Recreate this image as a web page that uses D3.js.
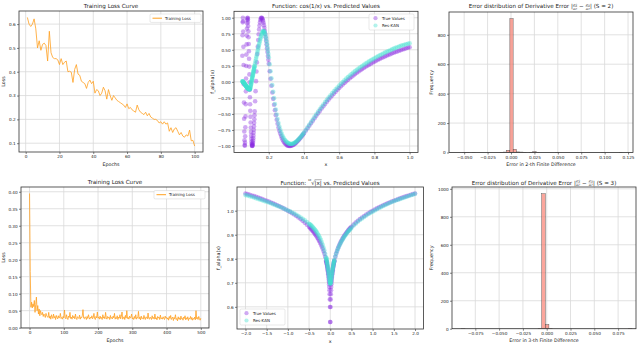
<!DOCTYPE html>
<html>
<head>
<meta charset="utf-8">
<script src="https://cdn.jsdelivr.net/npm/d3@7"></script>
<style>
body { margin: 0; background: #fff; }
svg { font-family: "DejaVu Sans", sans-serif; }
</style>
</head>
<body>
<svg id="canvas" width="640" height="344"></svg>
<script>

// ---- panel 1 : loss, 100 epochs
const lossA = [0.628,0.600,0.590,0.600,0.622,0.580,0.500,0.530,0.490,0.515,
  0.520,0.510,0.445,0.570,0.480,0.460,0.455,0.455,0.450,0.430,
  0.455,0.430,0.440,0.445,0.400,0.402,0.398,0.355,0.410,0.430,
  0.390,0.385,0.360,0.355,0.350,0.330,0.355,0.365,0.350,0.360,
  0.310,0.325,0.320,0.300,0.310,0.335,0.320,0.285,0.325,0.300,
  0.280,0.300,0.290,0.280,0.275,0.270,0.265,0.260,0.250,0.265,
  0.245,0.250,0.240,0.235,0.230,0.260,0.240,0.230,0.225,0.220,
  0.230,0.215,0.225,0.210,0.205,0.200,0.200,0.195,0.185,0.190,
  0.180,0.190,0.180,0.185,0.150,0.165,0.145,0.160,0.165,0.150,
  0.135,0.145,0.130,0.125,0.135,0.130,0.155,0.110,0.112,0.088];

// ---- panel 4 : loss, 500 epochs (every 2nd epoch)
const lossB = [0.395,0.165,0.060,
  0.075,0.058,0.070,0.062,0.080,0.045,0.068,0.090,
  0.050,0.065,0.040,0.055,0.035,0.050,0.042,0.038,0.045,0.033,0.040,0.036,0.030,0.042,0.035,0.032,
  0.030,0.045,0.028,0.034,0.025,0.038,0.031,0.027,0.040,0.029,0.033,0.024,0.036,0.030,0.026,0.035,0.028,0.031,0.042,0.027,0.030,0.025,0.033,0.029,
  0.052,0.030,0.026,0.038,0.028,0.024,0.034,0.030,0.045,0.027,0.031,0.025,0.036,0.029,0.033,0.026,0.040,0.028,0.024,0.032,0.030,0.027,0.037,0.025,0.031,
  0.029,0.035,0.053,0.028,0.026,0.032,0.030,0.024,0.033,0.027,0.038,0.029,0.025,0.031,0.028,0.035,0.026,0.030,0.042,0.027,0.024,0.033,0.029,0.046,0.028,
  0.031,0.025,0.034,0.027,0.030,0.024,0.038,0.028,0.032,0.026,0.045,0.029,0.025,0.033,0.028,0.031,0.024,0.036,0.027,0.030,0.026,0.034,0.029,0.042,0.025,
  0.030,0.027,0.035,0.024,0.031,0.028,0.038,0.026,0.033,0.046,0.025,0.029,0.032,0.024,0.036,0.028,0.050,0.027,0.030,0.025,0.034,0.028,0.031,0.040,0.026,
  0.029,0.024,0.033,0.027,0.038,0.025,0.030,0.028,0.048,0.026,0.031,0.023,0.034,0.027,0.029,0.025,0.036,0.028,0.024,0.032,0.030,0.026,0.043,0.027,0.025,
  0.031,0.028,0.024,0.035,0.027,0.030,0.025,0.040,0.026,0.029,0.023,0.033,0.028,0.031,0.024,0.037,0.026,0.029,0.025,0.032,0.027,0.024,0.034,0.028,0.030,
  0.025,0.029,0.022,0.033,0.027,0.036,0.024,0.028,0.031,0.021,0.030,0.026,0.038,0.024,0.027,0.020,0.032,0.025,0.029,0.023,0.034,0.026,0.028,0.022,0.031,
  0.027,0.035,0.023,0.029,0.025,0.032,0.021,0.028,0.026,0.033,0.024,0.030,0.022,0.027,0.025,0.031,0.023,0.050,0.026,0.030,0.024,0.033,0.027,0.022,0.028];

// ---- panel 2 : cos(1/x)
const cosX = [0.050,0.051,0.052,0.053,0.054,0.055,0.056,0.057,0.058,0.059,
  0.060,0.061,0.062,0.063,0.064,0.065,0.066,0.067,0.068,0.069,
  0.070,0.071,0.072,0.073,0.074,0.075,0.076,0.077,0.078,0.079,
  0.080,0.081,0.082,0.083,0.084,0.085,0.086,0.087,0.088,0.089,
  0.090,0.091,0.092,0.093,0.094,0.095,0.096,0.097,0.098,0.099,
  0.100,0.101,0.102,0.103,0.104,0.105,0.106,0.107,0.108,0.109,
  0.110,0.111,0.112,0.113,0.114,0.115,0.116,0.117,0.118,0.119,0.120,
  0.1225,0.125,0.1275,0.130,0.1325,0.135,0.1375,0.140,0.1425,0.145,0.1475,0.150,0.1525,0.155,0.1575,0.160,
  0.1625,0.165,0.1675,0.170,0.1725,0.175,0.1775,0.180,0.1825,0.185,0.1875,0.190,0.1925,0.195,0.1975,0.200,
  0.205,0.210,0.215,0.220,0.225,0.230,0.235,0.240,0.245,0.250,0.255,0.260,0.265,0.270,0.275,0.280,0.285,0.290,0.295,0.300,
  0.305,0.310,0.315,0.320,0.325,0.330,0.335,0.340,0.345,0.350,0.355,0.360,0.365,0.370,0.375,0.380,0.385,0.390,0.395,0.400,
  0.41,0.42,0.43,0.44,0.45,0.46,0.47,0.48,0.49,0.50,0.51,0.52,0.53,0.54,0.55,0.56,0.57,0.58,0.59,0.60,
  0.61,0.62,0.63,0.64,0.65,0.66,0.67,0.68,0.69,0.70,0.71,0.72,0.73,0.74,0.75,0.76,0.77,0.78,0.79,0.80,
  0.81,0.82,0.83,0.84,0.85,0.86,0.87,0.88,0.89,0.90,0.91,0.92,0.93,0.94,0.95,0.96,0.97,0.98,0.99,1.00];
const cosTrue = [0.408,0.726,0.928,1.000,0.946,0.785,0.546,0.262,-0.037,-0.323,
  -0.575,-0.775,-0.912,-0.986,-0.997,-0.948,-0.849,-0.709,-0.539,-0.348,
  -0.148,0.052,0.246,0.425,0.584,0.721,0.830,0.912,0.967,0.996,
  0.998,0.976,0.932,0.869,0.789,0.696,0.591,0.478,0.360,0.238,
  0.116,-0.006,-0.125,-0.240,-0.350,-0.452,-0.546,-0.634,-0.712,-0.780,
  -0.839,-0.889,-0.929,-0.960,-0.982,-0.995,-1.000,-0.997,-0.986,-0.969,
  -0.945,-0.915,-0.880,-0.839,-0.794,-0.746,-0.694,-0.639,-0.582,-0.522,-0.461,
  -0.303,-0.145,0.011,0.161,0.303,0.433,0.549,0.652,0.742,0.818,0.879,0.927,0.963,0.986,0.998,0.999,
  0.992,0.975,0.951,0.921,0.884,0.842,0.797,0.747,0.694,0.639,0.582,0.523,0.465,0.404,0.344,0.284,
  0.165,0.049,-0.061,-0.166,-0.265,-0.358,-0.441,-0.519,-0.590,-0.654,-0.711,-0.762,-0.807,-0.846,-0.880,-0.909,-0.933,-0.953,-0.969,-0.982,
  -0.991,-0.996,-0.999,-1.000,-0.998,-0.994,-0.988,-0.980,-0.971,-0.960,-0.948,-0.934,-0.920,-0.905,-0.889,-0.873,-0.856,-0.838,-0.820,-0.801,
  -0.763,-0.724,-0.685,-0.646,-0.607,-0.568,-0.529,-0.491,-0.453,-0.416,-0.381,-0.345,-0.311,-0.277,-0.245,-0.213,-0.183,-0.153,-0.124,-0.095,
  -0.068,-0.042,-0.016,0.008,0.032,0.055,0.078,0.100,0.121,0.141,0.161,0.181,0.199,0.217,0.235,0.252,0.268,0.284,0.300,0.315,
  0.330,0.344,0.358,0.371,0.384,0.397,0.409,0.421,0.432,0.444,0.455,0.465,0.475,0.485,0.495,0.504,0.514,0.523,0.531,0.540];
const cosPred = [0.010,0.008,0.005,0.002,-0.001,-0.004,-0.008,-0.011,-0.015,-0.018,
  -0.022,-0.026,-0.030,-0.034,-0.038,-0.042,-0.046,-0.050,-0.054,-0.058,
  -0.062,-0.066,-0.070,-0.074,-0.078,-0.082,-0.086,-0.089,-0.092,-0.095,
  -0.098,-0.100,-0.102,-0.104,-0.106,-0.108,-0.110,-0.112,-0.114,-0.115,
  -0.116,-0.117,-0.116,-0.112,-0.104,-0.093,-0.080,-0.066,-0.052,-0.038,
  -0.024,-0.010,0.004,0.018,0.032,0.046,0.060,0.074,0.088,0.102,
  0.116,0.130,0.144,0.158,0.172,0.186,0.200,0.214,0.228,0.242,0.256,
  0.290,0.324,0.358,0.392,0.425,0.458,0.490,0.522,0.553,0.584,0.614,0.643,0.671,0.697,0.721,0.743,
  0.762,0.777,0.787,0.791,0.788,0.778,0.761,0.737,0.707,0.671,0.630,0.585,0.537,0.487,0.436,0.384,
  0.275,0.165,0.056,-0.051,-0.155,-0.254,-0.347,-0.432,-0.510,-0.580,-0.642,-0.697,-0.745,-0.787,-0.823,-0.854,-0.880,-0.902,-0.920,-0.935,
  -0.947,-0.956,-0.963,-0.967,-0.969,-0.968,-0.965,-0.960,-0.953,-0.944,-0.934,-0.922,-0.909,-0.895,-0.880,-0.864,-0.847,-0.829,-0.811,-0.792,
  -0.751,-0.710,-0.669,-0.628,-0.587,-0.546,-0.506,-0.467,-0.428,-0.388,-0.352,-0.315,-0.280,-0.245,-0.212,-0.179,-0.148,-0.117,-0.087,-0.057,
  -0.029,-0.002,0.025,0.050,0.075,0.099,0.122,0.145,0.167,0.187,0.208,0.228,0.247,0.266,0.284,0.302,0.319,0.336,0.352,0.368,
  0.383,0.398,0.413,0.427,0.441,0.455,0.468,0.481,0.493,0.506,0.518,0.529,0.540,0.551,0.561,0.570,0.578,0.586,0.593,0.600];

// ---- panel 5 : 10th root of |x|
const rootX = [-2.00,-1.95,-1.90,-1.85,-1.80,-1.75,-1.70,-1.65,-1.60,-1.55,-1.50,-1.45,-1.40,-1.35,-1.30,
  -1.25,-1.20,-1.15,-1.10,-1.05,-1.00,-0.95,-0.90,-0.85,-0.80,-0.75,-0.70,-0.65,-0.60,-0.55,
  -0.50,-0.48,-0.46,-0.44,-0.42,-0.40,-0.38,-0.36,-0.34,-0.32,-0.30,-0.28,-0.26,-0.24,-0.22,-0.20,-0.18,-0.16,-0.14,-0.12,
  -0.098,-0.094,-0.090,-0.086,-0.082,-0.078,-0.074,-0.070,-0.066,-0.062,-0.058,-0.054,-0.050,-0.046,-0.042,-0.038,-0.034,-0.030,-0.026,-0.022,-0.018,-0.014,-0.010,-0.006,-0.002,
  0.002,0.006,0.010,0.014,0.018,0.022,0.026,0.030,0.034,0.038,0.042,0.046,0.050,0.054,0.058,0.062,0.066,0.070,0.074,0.078,0.082,0.086,0.090,0.094,0.098,
  0.12,0.14,0.16,0.18,0.20,0.22,0.24,0.26,0.28,0.30,0.32,0.34,0.36,0.38,0.40,0.42,0.44,0.46,0.48,0.50,
  0.55,0.60,0.65,0.70,0.75,0.80,0.85,0.90,0.95,1.00,1.05,1.10,1.15,1.20,1.25,
  1.30,1.35,1.40,1.45,1.50,1.55,1.60,1.65,1.70,1.75,1.80,1.85,1.90,1.95,2.00];
const rootTrue = [1.0718,1.0690,1.0663,1.0634,1.0605,1.0576,1.0545,1.0514,1.0481,1.0448,1.0414,1.0378,1.0342,1.0305,1.0266,
  1.0226,1.0184,1.0141,1.0096,1.0049,1.0000,0.9949,0.9895,0.9839,0.9779,0.9716,0.9650,0.9578,0.9502,0.9420,
  0.9330,0.9293,0.9253,0.9212,0.9169,0.9124,0.9079,0.9030,0.8978,0.8924,0.8866,0.8805,0.8740,0.8670,0.8595,0.8513,0.8424,0.8325,0.8215,0.8087,
  0.7929,0.7896,0.7861,0.7826,0.7788,0.7750,0.7709,0.7666,0.7621,0.7574,0.7523,0.7470,0.7412,0.7351,0.7284,0.7211,0.7132,0.7043,0.6943,0.6828,0.6692,0.6527,0.6310,0.5996,0.5372,
  0.5372,0.5996,0.6310,0.6527,0.6692,0.6828,0.6943,0.7043,0.7132,0.7211,0.7284,0.7351,0.7412,0.7470,0.7523,0.7574,0.7621,0.7666,0.7709,0.7750,0.7788,0.7826,0.7861,0.7896,0.7929,
  0.8087,0.8215,0.8325,0.8424,0.8513,0.8595,0.8670,0.8740,0.8805,0.8866,0.8924,0.8978,0.9030,0.9079,0.9124,0.9169,0.9212,0.9253,0.9293,0.9330,
  0.9420,0.9502,0.9578,0.9650,0.9716,0.9779,0.9839,0.9895,0.9949,1.0000,1.0049,1.0096,1.0141,1.0184,1.0226,
  1.0266,1.0305,1.0342,1.0378,1.0414,1.0448,1.0481,1.0514,1.0545,1.0576,1.0605,1.0634,1.0663,1.0690,1.0718];
const rootPred = [1.065,1.063,1.060,1.058,1.055,1.052,1.049,1.046,1.043,1.040,1.037,1.034,1.031,1.027,1.024,
  1.020,1.017,1.013,1.009,1.005,1.001,0.997,0.992,0.988,0.983,0.978,0.972,0.966,0.960,0.953,
  0.946,0.943,0.940,0.937,0.933,0.929,0.925,0.921,0.916,0.911,0.905,0.899,0.892,0.885,0.877,0.868,0.858,0.847,0.835,0.821,
  0.806,0.802,0.799,0.795,0.791,0.787,0.783,0.779,0.774,0.770,0.765,0.760,0.755,0.750,0.745,0.740,0.734,0.728,0.723,0.717,0.712,0.707,0.703,0.699,0.697,
  0.696,0.698,0.701,0.705,0.709,0.714,0.719,0.724,0.729,0.734,0.739,0.744,0.749,0.753,0.758,0.762,0.766,0.770,0.774,0.778,0.782,0.785,0.789,0.792,0.795,
  0.810,0.822,0.832,0.841,0.849,0.857,0.864,0.871,0.877,0.883,0.889,0.894,0.899,0.904,0.909,0.913,0.917,0.921,0.925,0.929,
  0.938,0.946,0.954,0.961,0.968,0.974,0.980,0.986,0.991,0.996,1.001,1.006,1.011,1.015,1.020,
  1.024,1.028,1.032,1.036,1.039,1.043,1.046,1.049,1.052,1.055,1.058,1.061,1.064,1.067,1.070];

// ---- panels 3 and 6 : histograms of derivative error (non-empty bins)
const errBin2 = [-0.0517,-0.0482,-0.0412,-0.0117,-0.0082,-0.0047,-0.0012,0.0023,0.0058,0.0093,0.0128,0.0198,0.0233,0.0268,0.0478,0.0968,0.1158];
const errCount2 = [2,1,1,2,3,15,910,22,4,3,2,2,5,2,1,1,1];
const binWidth2 = 0.0035;
const errBin3 = [-0.0896,-0.0091,-0.0053,-0.0015,0.0023,0.0858];
const errCount3 = [1,2,965,30,2,1];
const binWidth3 = 0.0038;

// ---- tick values
const ticksEp100 = [0,20,40,60,80,100], ticksLossA = [0.1,0.2,0.3,0.4,0.5,0.6];
const ticksCosX = [0.2,0.4,0.6,0.8,1.0], ticksCosY = [-1,-0.75,-0.5,-0.25,0,0.25,0.5,0.75,1];
const ticksErr2X = [-0.05,-0.025,0,0.025,0.05,0.075,0.1,0.125], ticksFreq2 = [0,200,400,600,800];
const ticksEp500 = [0,100,200,300,400,500], ticksLossB = [0,0.05,0.1,0.15,0.2,0.25,0.3,0.35,0.4];
const ticksRootX = [-2,-1.5,-1,-0.5,0,0.5,1,1.5,2], ticksRootY = [0.6,0.7,0.8,0.9,1.0];
const ticksErr3X = [-0.075,-0.05,-0.025,0,0.025,0.05,0.075], ticksFreq3 = [0,200,400,600,800,1000];

const ORANGE = '#ffa01f', PURPLE = '#8a2be2', CYAN = '#40e0d0', SALMON = '#fa8072';
const TICK_FS = 4.2, LABEL_FS = 4.8, TITLE_FS = 5.6;

const svg = d3.select('svg#canvas');
let clipCount = 0;

function makePanel(p) {
  const x = d3.scaleLinear().domain(p.xDomain).range([p.left, p.right]);
  const y = d3.scaleLinear().domain(p.yDomain).range([p.bottom, p.top]);
  const g = svg.append('g');
  const id = 'clip' + (clipCount++);
  g.append('clipPath').attr('id', id).append('rect')
    .attr('x', p.left).attr('y', p.top)
    .attr('width', p.right - p.left).attr('height', p.bottom - p.top);

  g.append('g').selectAll('line').data(p.xTicks).join('line')
    .attr('x1', d => x(d)).attr('x2', d => x(d)).attr('y1', p.top).attr('y2', p.bottom)
    .attr('stroke', '#d9d9d9').attr('stroke-width', 0.8);
  g.append('g').selectAll('line').data(p.yTicks).join('line')
    .attr('y1', d => y(d)).attr('y2', d => y(d)).attr('x1', p.left).attr('x2', p.right)
    .attr('stroke', '#d9d9d9').attr('stroke-width', 0.8);

  const plot = g.append('g').attr('clip-path', `url(#${id})`);

  const xa = g.append('g').attr('transform', `translate(0,${p.bottom})`)
    .call(d3.axisBottom(x).tickValues(p.xTicks).tickFormat(p.xFormat).tickSize(2).tickPadding(1.3));
  const ya = g.append('g').attr('transform', `translate(${p.left},0)`)
    .call(d3.axisLeft(y).tickValues(p.yTicks).tickFormat(p.yFormat).tickSize(2).tickPadding(1.3));
  [xa, ya].forEach(a => {
    a.select('.domain').remove();
    a.attr('font-family', null);
    a.selectAll('line').attr('stroke', '#333').attr('stroke-width', 0.6);
    a.selectAll('text').attr('font-size', TICK_FS).attr('fill', '#222');
  });

  g.append('rect')
    .attr('x', p.left).attr('y', p.top)
    .attr('width', p.right - p.left).attr('height', p.bottom - p.top)
    .attr('fill', 'none').attr('stroke', '#333').attr('stroke-width', 0.8);

  g.append('text').attr('x', (p.left + p.right) / 2).attr('y', p.bottom + 13.5)
    .attr('text-anchor', 'middle').attr('font-size', LABEL_FS).attr('fill', '#222').text(p.xLabel);
  g.append('text').attr('transform', `translate(${p.yLabelX},${(p.top + p.bottom) / 2}) rotate(-90)`)
    .attr('text-anchor', 'middle').attr('font-size', LABEL_FS).attr('fill', '#222').text(p.yLabel);

  if (p.title) {
    g.append('text').attr('x', (p.left + p.right) / 2).attr('y', p.top - 3.2)
      .attr('text-anchor', 'middle').attr('font-size', TITLE_FS).attr('fill', '#222').text(p.title);
  }
  return { x, y, plot, p };
}

// title made of plain text pieces, small fractions, raised indices
function richTitle(cx, yb, pieces) {
  const g = svg.append('g').attr('fill', '#222');
  let cur = 0;
  pieces.forEach(pc => {
    if (pc.frac) {
      const num = g.append('text').attr('y', yb - 2.5).attr('font-size', 2.7).style('white-space', 'pre').text(pc.frac[0]);
      const den = g.append('text').attr('y', yb + 1.3).attr('font-size', 2.7).style('white-space', 'pre').text(pc.frac[1]);
      const wn = num.node().getComputedTextLength(), wd = den.node().getComputedTextLength();
      const w = Math.max(wn, wd) + 0.4;
      num.attr('x', cur + (w - wn) / 2);
      den.attr('x', cur + (w - wd) / 2);
      g.append('line').attr('x1', cur).attr('x2', cur + w).attr('y1', yb - 1.7).attr('y2', yb - 1.7)
        .attr('stroke', '#222').attr('stroke-width', 0.25);
      cur += w;
    } else {
      const t = g.append('text').attr('x', cur).attr('y', yb + (pc.dy || 0))
        .attr('font-size', pc.size || TITLE_FS).style('white-space', 'pre').text(pc.text);
      const w = t.node().getComputedTextLength();
      if (pc.over) {
        g.append('line').attr('x1', cur).attr('x2', cur + w).attr('y1', yb - 4.9).attr('y2', yb - 4.9)
          .attr('stroke', '#222').attr('stroke-width', 0.35);
      }
      cur += w + (pc.gap || 0);
    }
  });
  g.attr('transform', `translate(${cx - cur / 2},0)`);
}

function legendFrame(x0, y0, w, h) {
  svg.append('rect').attr('x', x0).attr('y', y0).attr('width', w).attr('height', h)
    .attr('rx', 1.2).attr('fill', '#fff').attr('fill-opacity', 0.85)
    .attr('stroke', '#d0d0d0').attr('stroke-width', 0.5);
}
function legendLine(x0, y0, label) {
  legendFrame(x0, y0, 51, 8.4);
  svg.append('line').attr('x1', x0 + 2.5).attr('x2', x0 + 12).attr('y1', y0 + 4.2).attr('y2', y0 + 4.2)
    .attr('stroke', ORANGE).attr('stroke-width', 1);
  svg.append('text').attr('x', x0 + 15).attr('y', y0 + 5.7).attr('font-size', 4.0).attr('fill', '#222').text(label);
}
function legendDots(x0, y0) {
  legendFrame(x0, y0, 45, 16);
  [['True Values', PURPLE], ['Res-KAN', CYAN]].forEach((e, i) => {
    svg.append('circle').attr('cx', x0 + 6.5).attr('cy', y0 + 4.2 + i * 7.3).attr('r', 2.1)
      .attr('fill', e[1]).attr('fill-opacity', 0.4);
    svg.append('text').attr('x', x0 + 13).attr('y', y0 + 5.6 + i * 7.3).attr('font-size', 4.0).attr('fill', '#222').text(e[0]);
  });
}

function drawLoss(pn, values, epochOf) {
  pn.plot.append('path').datum(values)
    .attr('fill', 'none').attr('stroke', ORANGE).attr('stroke-width', 0.8).attr('stroke-linejoin', 'round')
    .attr('d', d3.line().x((d, i) => pn.x(epochOf(i))).y(d => pn.y(d)));
}
function drawScatter(pn, xs, ys, color) {
  pn.plot.append('g').selectAll('circle').data(ys).join('circle')
    .attr('cx', (d, i) => pn.x(xs[i])).attr('cy', d => pn.y(d)).attr('r', 2.3)
    .attr('fill', color).attr('fill-opacity', 0.4);
}
function drawHist(pn, bins, counts, w) {
  pn.plot.append('g').selectAll('rect').data(counts).join('rect')
    .attr('x', (d, i) => pn.x(bins[i])).attr('width', (d, i) => pn.x(bins[i] + w) - pn.x(bins[i]))
    .attr('y', d => pn.y(d)).attr('height', d => pn.y(0) - pn.y(d))
    .attr('fill', SALMON).attr('fill-opacity', 0.7).attr('stroke', '#444').attr('stroke-width', 0.4);
}

// ---- top row
const p1 = makePanel({ left: 19, right: 203, top: 11, bottom: 152,
  xDomain: [-3.95, 104.95], yDomain: [0.063, 0.655], xTicks: ticksEp100, yTicks: ticksLossA,
  xFormat: d3.format('d'), yFormat: d3.format('.1f'),
  xLabel: 'Epochs', yLabel: 'Loss', yLabelX: 5, title: 'Training Loss Curve' });
drawLoss(p1, lossA, i => i + 1);
legendLine(150, 14, 'Training Loss');

const p2 = makePanel({ left: 234, right: 418, top: 11.3, bottom: 152.4,
  xDomain: [0.0025, 1.0475], yDomain: [-1.1, 1.1], xTicks: ticksCosX, yTicks: ticksCosY,
  xFormat: d3.format('.1f'), yFormat: d3.format('.2f'),
  xLabel: 'x', yLabel: 'f_alpha(x)', yLabelX: 213.5, title: 'Function: cos(1/x) vs. Predicted Values' });
drawScatter(p2, cosX, cosTrue, PURPLE);
drawScatter(p2, cosX, cosPred, CYAN);
legendDots(369, 14);

const p3 = makePanel({ left: 449, right: 633, top: 12, bottom: 152.5,
  xDomain: [-0.0662, 0.1303], yDomain: [0, 955], xTicks: ticksErr2X, yTicks: ticksFreq2,
  xFormat: d3.format('.3f'), yFormat: d3.format('d'),
  xLabel: 'Error in 2-th Finite Difference', yLabel: 'Frequency', yLabelX: 432.5 });
drawHist(p3, errBin2, errCount2, binWidth2);
richTitle(541, 8.2, [{ text: 'Error distribution of Derivative Error |' }, { frac: ['∂²ŷ', '∂x²'] },
  { text: ' − ' }, { frac: ['∂²y', '∂x²'] }, { text: '| (S = 2)' }]);

// ---- bottom row
const p4 = makePanel({ left: 21, right: 209, top: 187, bottom: 328,
  xDomain: [-24.95, 523.95], yDomain: [-0.001, 0.414], xTicks: ticksEp500, yTicks: ticksLossB,
  xFormat: d3.format('d'), yFormat: d3.format('.2f'),
  xLabel: 'Epochs', yLabel: 'Loss', yLabelX: 5, title: 'Training Loss Curve' });
drawLoss(p4, lossB, i => i * 2);
legendLine(154, 190.5, 'Training Loss');

const p5 = makePanel({ left: 237, right: 423.5, top: 187, bottom: 329,
  xDomain: [-2.2, 2.2], yDomain: [0.5078, 1.0986], xTicks: ticksRootX, yTicks: ticksRootY,
  xFormat: d3.format('.1f'), yFormat: d3.format('.1f'),
  xLabel: 'x', yLabel: 'f_alpha(x)', yLabelX: 219.5 });
drawScatter(p5, rootX, rootTrue, PURPLE);
drawScatter(p5, rootX, rootPred, CYAN);
legendDots(240, 309);
richTitle(330, 184.6, [{ text: 'Function: ' }, { text: '10', size: 2.6, dy: -3.2 }, { text: '√', gap: -0.2 },
  { text: '|x|', over: true }, { text: ' vs. Predicted Values' }]);

const p6 = makePanel({ left: 452, right: 636, top: 187, bottom: 328.7,
  xDomain: [-0.0995, 0.0938], yDomain: [0, 1013], xTicks: ticksErr3X, yTicks: ticksFreq3,
  xFormat: d3.format('.3f'), yFormat: d3.format('d'),
  xLabel: 'Error in 3-th Finite Difference', yLabel: 'Frequency', yLabelX: 432.5 });
drawHist(p6, errBin3, errCount3, binWidth3);
richTitle(544, 184.6, [{ text: 'Error distribution of Derivative Error |' }, { frac: ['∂³ŷ', '∂x³'] },
  { text: ' − ' }, { frac: ['∂³y', '∂x³'] }, { text: '| (S = 3)' }]);

</script>
</body>
</html>
